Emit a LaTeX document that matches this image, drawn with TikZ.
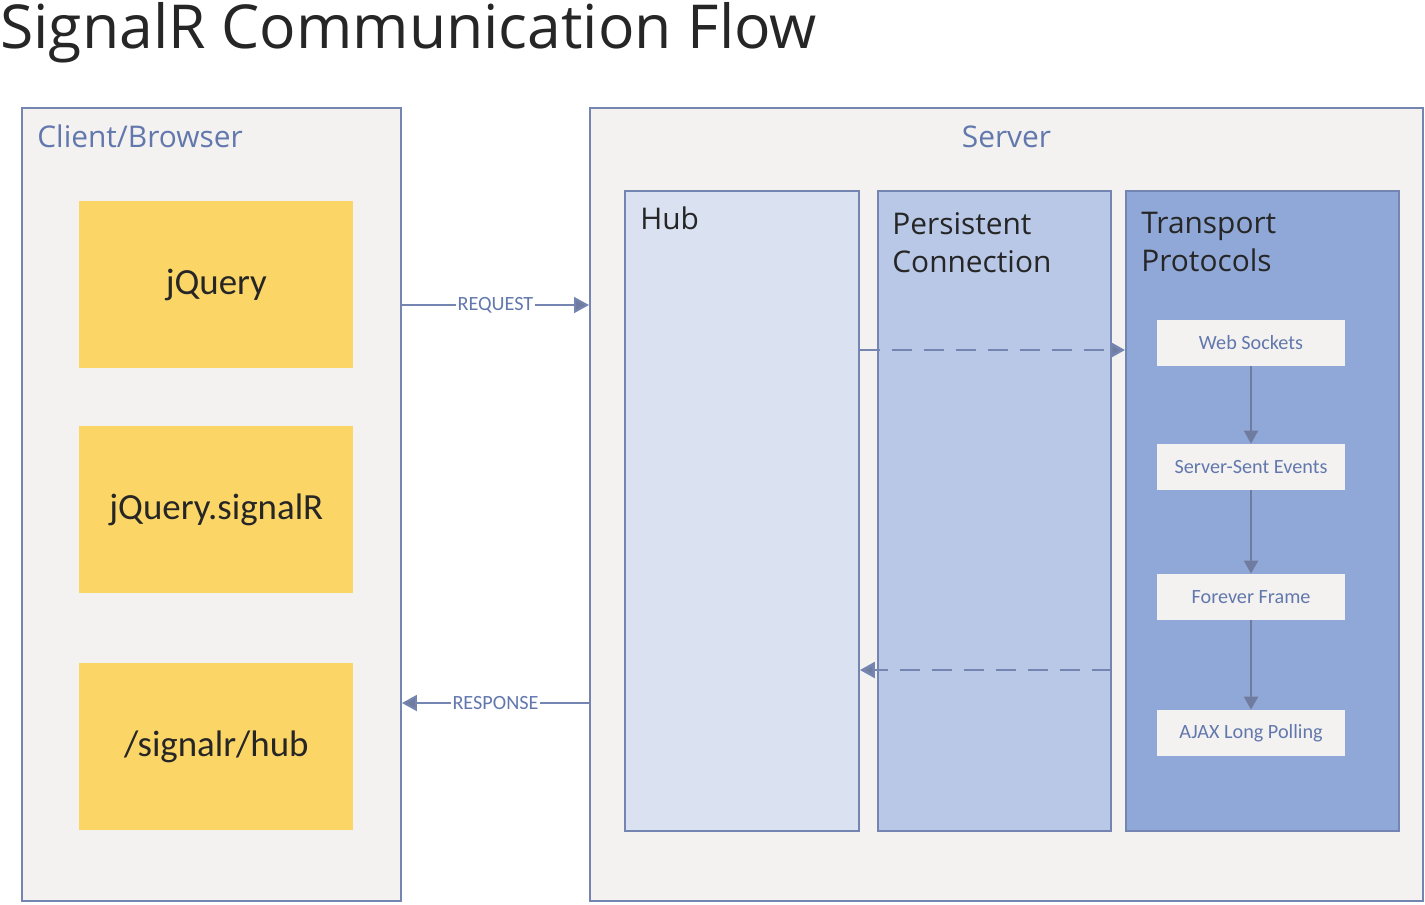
\documentclass[tikz,border=0pt]{standalone}
\usepackage{fontspec}
\setmainfont{Open Sans}
\newfontfamily\calibri{Carlito}
\usetikzlibrary{arrows.meta,positioning}

\definecolor{inkdark}{HTML}{262626}
\definecolor{inkblue}{HTML}{6278AD}
\definecolor{edgeblue}{HTML}{7585B2}
\definecolor{arrowgray}{HTML}{707C9F}
\definecolor{paper}{HTML}{F3F2F1}
\definecolor{libyellow}{HTML}{FBD667}
\definecolor{hubfill}{HTML}{DAE2F2}
\definecolor{pcfill}{HTML}{B8C8E6}
\definecolor{tpfill}{HTML}{90A8D7}

\def\px{0.02cm}

\begin{document}
\begin{tikzpicture}[x=0.02cm, y=-0.02cm,
    size/.style 2 args={minimum width=#1*\px, minimum height=#2*\px},
    panel/.style={draw=edgeblue, line width=1.1pt, anchor=north west, inner sep=0pt},
    libbox/.style={fill=libyellow, anchor=north west, inner sep=0pt, text=inkdark,
      font=\calibri\fontsize{21}{25}\selectfont},
    proto/.style={fill=paper, size={188}{46}, inner sep=0pt, text=inkblue,
      font=\calibri\fontsize{11.5}{14}\selectfont},
    head/.style={inner sep=0pt, font=\fontsize{17}{21.5}\selectfont, align=left},
    link/.style={draw=edgeblue, line width=1.1pt, -{Triangle[length=0.3cm, width=0.32cm, fill=arrowgray]}},
    dashlink/.style={link, line width=1.5pt, dash pattern=on 0.4cm off 0.24cm},
    flowarrow/.style={draw=arrowgray, line width=1.1pt, -{Triangle[length=0.26cm, width=0.28cm]}},
    tag/.style={fill=white, inner sep=1pt, text=inkblue, font=\calibri\fontsize{11.5}{14}\selectfont}]
  \useasboundingbox (0,0) rectangle (1425,904);
  %
  \node[anchor=base west, inner sep=0pt, text=inkdark, font=\fontsize{34.5}{40}\selectfont]
    (title) at (0,48) {SignalR Communication Flow};
  %
  % client side
  \node[panel, fill=paper, size={379}{793}] (client) at (21,107) {};
  \node[head, anchor=base west, text=inkblue] (clienttxt) at ([shift={(16,40)}]client.north west) {Client/Browser};
  \node[libbox, size={274}{167}] (jq) at (79,201) {jQuery};
  \node[libbox, size={274}{167}] (jqsr) at (79,426) {jQuery.signalR};
  \node[libbox, size={274}{167}] (sighub) at (79,663) {/signalr/hub};
  %
  % server side
  \node[panel, fill=paper, size={833}{793}] (server) at (589,107) {};
  \node[head, anchor=base, text=inkblue] (servertxt) at ([yshift=40*\px*-1]server.north) {Server};
  %
  \node[panel, fill=hubfill, size={234}{640}] (hub) at (624,190) {};
  \node[panel, fill=pcfill, size={233}{640}] (persist) at (877,190) {};
  \node[panel, fill=tpfill, size={273}{640}] (transport) at (1125,190) {};
  \node[head, anchor=base west, text=inkdark] (hubtxt) at ([shift={(16,39)}]hub.north west) {Hub};
  \node[head, anchor=north west, text=inkdark] (persisttxt) at ([shift={(15,22)}]persist.north west) {Persistent\\Connection};
  \node[head, anchor=north west, text=inkdark] (transporttxt) at ([shift={(16,22)}]transport.north west) {Transport\\Protocols};
  %
  \node[proto] (ws) at (1251,343) {Web Sockets};
  \node[proto] (sse) at (1251,467) {Server-Sent Events};
  \node[proto] (ff) at (1251,597) {Forever Frame};
  \node[proto] (ajax) at (1251,733) {AJAX Long Polling};
  \draw[flowarrow] (ws) -- (sse);
  \draw[flowarrow] (sse) -- (ff);
  \draw[flowarrow] (ff) -- (ajax);
  %
  % request / response
  \coordinate (reqlevel) at (0,305);
  \coordinate (reslevel) at (0,703);
  \draw[link] (client.east |- reqlevel) -- node[tag] (reqtxt) {REQUEST} (server.west |- reqlevel);
  \draw[link] (server.west |- reslevel) -- node[tag] (restxt) {RESPONSE} (client.east |- reslevel);
  %
  % hub <-> transport
  \coordinate (uplevel) at (0,350);
  \coordinate (downlevel) at (0,670);
  \draw[dashlink] (hub.east |- uplevel) -- (transport.west |- uplevel);
  \draw[dashlink] (persist.east |- downlevel) -- (hub.east |- downlevel);
  %
\end{tikzpicture}
\end{document}
